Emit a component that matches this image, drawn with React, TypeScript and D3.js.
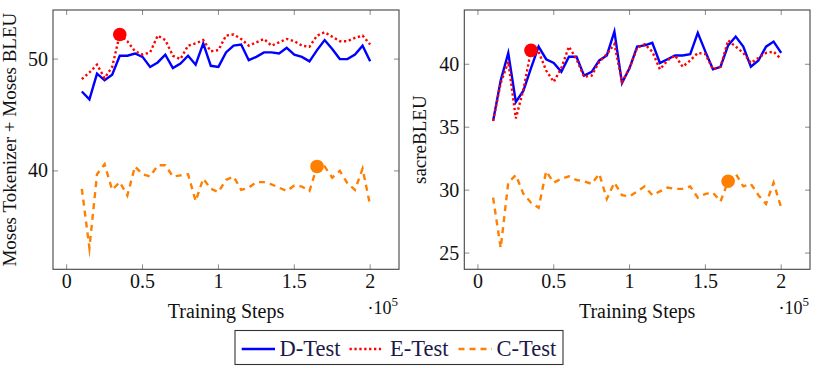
import React from "react";
import * as d3 from "d3";

// training steps (x axis, raw step counts)
const steps = [
  10000, 15000, 20000, 25000, 30000, 35000, 40000, 45000, 50000, 55000,
  60000, 65000, 70000, 75000, 80000, 85000, 90000, 95000, 100000, 105000,
  110000, 115000, 120000, 125000, 130000, 135000, 140000, 145000, 150000, 155000,
  160000, 165000, 170000, 175000, 180000, 185000, 190000, 195000, 200000,
];

// left panel: Moses Tokenizer + Moses BLEU
const mosesD = [
  47.1, 46.4, 48.7, 48.1, 48.6, 50.3, 50.3, 50.5, 50.2, 49.3,
  49.7, 50.4, 49.2, 49.6, 50.3, 49.5, 51.4, 49.4, 49.3, 50.6,
  51.2, 51.3, 49.9, 50.2, 50.6, 50.6, 50.5, 51.0, 50.4, 50.2,
  49.8, 50.8, 51.7, 50.9, 50.0, 50.0, 50.4, 51.2, 49.8,
];
const mosesE = [
  48.2, 48.8, 49.5, 48.3, 49.3, 52.2, 51.6, 50.7, 50.4, 50.6,
  52.1, 51.7, 50.3, 50.0, 51.2, 51.4, 51.7, 50.7, 50.8, 52.1,
  52.2, 51.8, 51.2, 51.5, 51.8, 51.2, 51.5, 51.8, 51.6, 51.2,
  51.1, 52.1, 52.4, 52.0, 51.6, 51.6, 51.9, 52.1, 51.3,
];
const mosesC = [
  38.4, 33.1, 39.7, 40.6, 38.3, 39.0, 37.8, 40.4, 39.7, 39.5,
  40.5, 40.5, 39.5, 39.6, 39.7, 37.3, 39.3, 38.4, 38.1, 39.2,
  39.5, 38.3, 38.5, 39.0, 39.0, 38.8, 38.5, 38.2, 38.7, 38.6,
  38.2, 40.4, 40.4, 39.4, 40.0, 38.9, 38.3, 40.2, 36.9,
];

// right panel: sacreBLEU
const sacreD = [
  35.5, 38.7, 40.9, 37.0, 37.9, 39.7, 41.4, 40.4, 40.1, 39.4,
  40.6, 40.6, 39.1, 39.4, 40.3, 40.7, 42.6, 38.5, 39.7, 41.4,
  41.5, 41.7, 40.1, 40.4, 40.7, 40.7, 40.8, 42.5, 41.0, 39.6,
  39.8, 41.5, 42.2, 41.4, 39.8, 40.3, 41.4, 41.8, 40.9,
];
const sacreE = [
  35.5, 38.5, 40.2, 35.7, 38.0, 41.1, 41.0, 39.5, 38.6, 39.7,
  41.4, 40.4, 39.0, 39.1, 40.2, 40.8, 41.6, 38.6, 39.7, 41.3,
  41.6, 41.0, 39.6, 40.3, 40.7, 39.8, 40.3, 40.9, 40.8, 39.6,
  39.8, 41.9, 41.4, 40.9, 40.1, 40.5, 40.9, 41.0, 40.4,
];
const sacreC = [
  29.4, 25.4, 30.6, 31.2, 29.7, 29.0, 28.6, 31.5, 30.6, 30.9,
  31.1, 30.8, 30.7, 30.5, 31.3, 29.3, 30.6, 29.6, 29.5, 29.9,
  30.3, 29.6, 29.9, 30.2, 30.1, 30.1, 30.3, 29.4, 29.7, 29.8,
  29.1, 30.7, 31.3, 30.3, 30.5, 29.6, 28.9, 30.6, 28.6,
];

// highlighted checkpoints
const bestEStep = 35000;
const bestCStep = 165000;

const xTicks = [0, 50000, 100000, 150000, 200000];
const legendNames = ["D-Test", "E-Test", "C-Test"];

const BLUE = "#0000ff";
const RED = "#ff0000";
const ORANGE = "#ff8000";
const FONT = "'Liberation Serif', 'Times New Roman', serif";

type Panel = {
  left: number;
  right: number;
  yDomain: [number, number];
  yTicks: number[];
  d: number[];
  e: number[];
  c: number[];
  ylabel: string;
  ylabelX: number;
};

const panels: Panel[] = [
  {
    left: 53, right: 399, yDomain: [31.2, 54.39], yTicks: [40, 50],
    d: mosesD, e: mosesE, c: mosesC,
    ylabel: "Moses Tokenizer + Moses BLEU", ylabelX: 16,
  },
  {
    left: 464.3, right: 810, yDomain: [23.71, 44.31], yTicks: [25, 30, 35, 40],
    d: sacreD, e: sacreE, c: sacreC,
    ylabel: "sacreBLEU", ylabelX: 426,
  },
];

const TOP = 10;
const BOTTOM = 269.3;

const PlotPanel: React.FC<{ p: Panel }> = ({ p }) => {
  const x = d3.scaleLinear().domain([-9000, 219000]).range([p.left, p.right]);
  const y = d3.scaleLinear().domain(p.yDomain).range([BOTTOM, TOP]);
  const line = d3
    .line<number>()
    .x((_, i) => x(steps[i]))
    .y((v) => y(v));
  const iE = steps.indexOf(bestEStep);
  const iC = steps.indexOf(bestCStep);
  const midX = (p.left + p.right) / 2;

  return (
    <g>
      {/* ticks, inward on all sides */}
      {xTicks.map((t) => (
        <g key={"xt" + t} stroke="#8a8a8a" strokeWidth={1}>
          <line x1={x(t)} x2={x(t)} y1={BOTTOM} y2={BOTTOM - 5} />
          <line x1={x(t)} x2={x(t)} y1={TOP} y2={TOP + 5} />
        </g>
      ))}
      {p.yTicks.map((t) => (
        <g key={"yt" + t} stroke="#8a8a8a" strokeWidth={1}>
          <line x1={p.left} x2={p.left + 5} y1={y(t)} y2={y(t)} />
          <line x1={p.right} x2={p.right - 5} y1={y(t)} y2={y(t)} />
        </g>
      ))}

      <path d={line(p.d) ?? ""} fill="none" stroke={BLUE} strokeWidth={2.4} strokeLinejoin="miter" strokeMiterlimit={10} />
      <path d={line(p.e) ?? ""} fill="none" stroke={RED} strokeWidth={2.4} strokeDasharray="2.3,2.6" strokeLinejoin="miter" />
      <path d={line(p.c) ?? ""} fill="none" stroke={ORANGE} strokeWidth={2.4} strokeDasharray="6,5" strokeLinejoin="miter" strokeMiterlimit={10} />

      <circle cx={x(steps[iE])} cy={y(p.e[iE])} r={6.8} fill={RED} />
      <circle cx={x(steps[iC])} cy={y(p.c[iC])} r={6.8} fill={ORANGE} />

      <rect x={p.left} y={TOP} width={p.right - p.left} height={BOTTOM - TOP} fill="none" stroke="#444" strokeWidth={1.1} />

      {/* tick labels */}
      {xTicks.map((t) => (
        <text key={"xl" + t} x={x(t)} y={288} textAnchor="middle" fontSize={20} fontFamily={FONT} fill="#111">
          {String(t / 100000)}
        </text>
      ))}
      {p.yTicks.map((t) => (
        <text key={"yl" + t} x={p.left - 5} y={y(t) + 6.5} textAnchor="end" fontSize={20} fontFamily={FONT} fill="#111">
          {t}
        </text>
      ))}

      <text x={p.right - 1} y={314} textAnchor="end" fontSize={18} fontFamily={FONT} fill="#111">
        ·10<tspan fontSize={13} dy={-8}>5</tspan>
      </text>
      <text x={midX} y={318} textAnchor="middle" fontSize={20} fontFamily={FONT} fill="#111">
        Training Steps
      </text>
      <text
        transform={`translate(${p.ylabelX},${(TOP + BOTTOM) / 2}) rotate(-90)`}
        textAnchor="middle"
        fontSize={19}
        fontFamily={FONT}
        fill="#111"
      >
        {p.ylabel}
      </text>
    </g>
  );
};

const Legend: React.FC = () => {
  const styles = [
    { stroke: BLUE, dash: undefined, x1: 241.7, x2: 275, tx: 279.5 },
    { stroke: RED, dash: "2.3,2.6", x1: 349.5, x2: 381, tx: 390 },
    { stroke: ORANGE, dash: "6,5", x1: 458.5, x2: 492, tx: 496.5 },
  ];
  return (
    <g>
      <rect x={235} y={330.5} width={328} height={34} fill="#fff" stroke="#333" strokeWidth={1.1} />
      {legendNames.map((name, i) => (
        <g key={name}>
          <line x1={styles[i].x1} x2={styles[i].x2} y1={349} y2={349} stroke={styles[i].stroke} strokeWidth={2.4} strokeDasharray={styles[i].dash} />
          <text x={styles[i].tx} y={356} fontSize={22.5} fontFamily={FONT} fill="#1a1a4a">
            {name}
          </text>
        </g>
      ))}
    </g>
  );
};

export default function App() {
  return (
    <svg width={817} height={368} style={{ position: "absolute", left: 0, top: 0, background: "#fff" }}>
      {panels.map((p, i) => (
        <PlotPanel key={i} p={p} />
      ))}
      <Legend />
    </svg>
  );
}
